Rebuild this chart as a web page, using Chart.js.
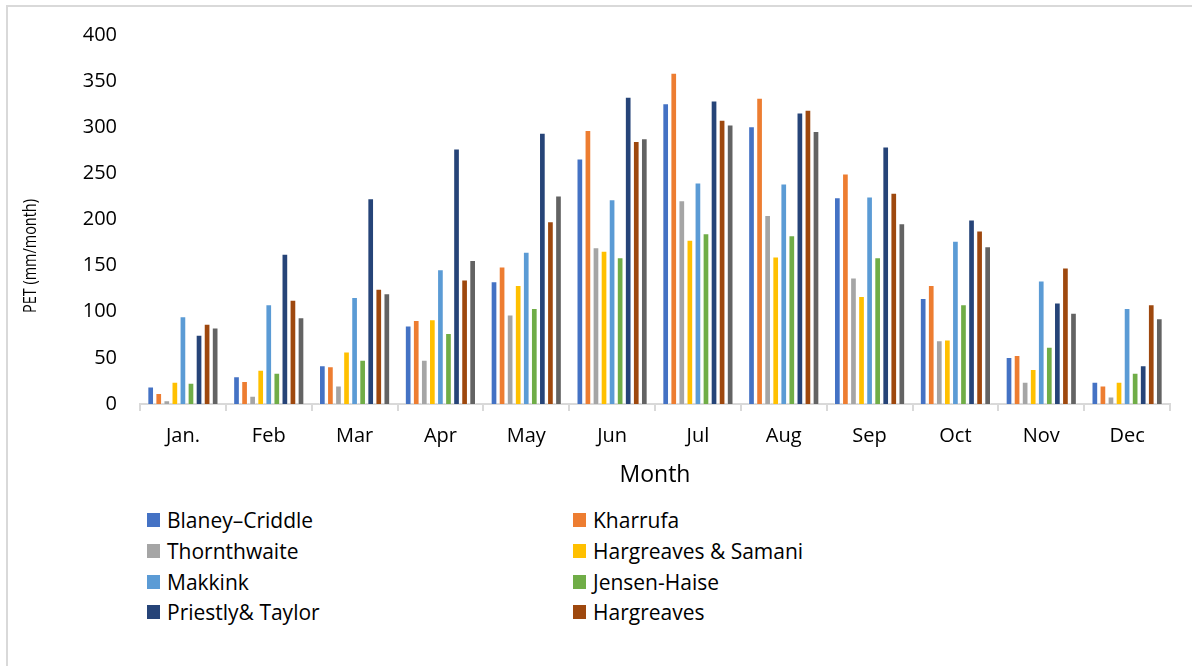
<!DOCTYPE html>
<html>
<head>
<meta charset="utf-8">
<script src="https://cdn.jsdelivr.net/npm/chart.js@4.4.1/dist/chart.umd.min.js"></script>
<style>
  html, body { margin: 0; padding: 0; background: #fff; }
  body { width: 1192px; height: 666px; position: relative; overflow: hidden; font-family: "Open Sans", sans-serif; }
  .frame { position: absolute; left: 6px; top: 5px; width: 1200px; height: 700px; border-left: 2px solid #d9d9d9; border-top: 2px solid #d9d9d9; }
  .chart-box { position: absolute; left: 0; top: 0; width: 1192px; height: 500px; }
  .legend { position: absolute; left: 147px; top: 505px; display: grid; grid-template-columns: 426px 300px; }
  .legend-item { display: flex; align-items: center; height: 30.7px; font-size: 21px; color: #000; white-space: nowrap; }
  .legend-item span.box { width: 13px; height: 14px; margin-right: 7px; flex: none; }
</style>
</head>
<body>
<div class="frame"></div>
<div class="chart-box"><canvas id="petChart"></canvas></div>
<div class="legend" id="legend"></div>

<script>
// PET (mm/month) per method
const months = ['Jan.', 'Feb', 'Mar', 'Apr', 'May', 'Jun', 'Jul', 'Aug', 'Sep', 'Oct', 'Nov', 'Dec'];

const blaneyCriddle = [19, 30, 42, 85, 133, 266, 326, 301, 224, 115, 51, 24];
const kharrufa = [12, 25, 41, 91, 149, 297, 359, 332, 250, 129, 53, 20];
const thornthwaite = [4, 9, 20, 48, 97, 170, 221, 205, 137, 69, 24, 8];
const hargreavesSamani = [24, 37, 57, 92, 129, 166, 178, 160, 117, 70, 38, 24];
const makkink = [95, 108, 116, 146, 165, 222, 240, 239, 225, 177, 134, 104];
const jensenHaise = [23, 34, 48, 77, 104, 159, 185, 183, 159, 108, 62, 34];
const priestlyTaylor = [75, 163, 223, 277, 294, 333, 329, 316, 279, 200, 110, 42];
const hargreaves = [87, 113, 125, 135, 198, 285, 308, 319, 229, 188, 148, 108];
const unnamedSeries = [83, 94, 120, 156, 226, 288, 303, 296, 196, 171, 99, 93];

const yTicks = [0, 50, 100, 150, 200, 250, 300, 350, 400];
const yTitle = 'PET (mm/month)';

const series = [
    { label: 'Blaney\u2013Criddle', data: blaneyCriddle, color: '#4472C4', legend: true },
    { label: 'Kharrufa', data: kharrufa, color: '#ED7D31', legend: true },
    { label: 'Thornthwaite', data: thornthwaite, color: '#A5A5A5', legend: true },
    { label: 'Hargreaves & Samani', data: hargreavesSamani, color: '#FFC000', legend: true },
    { label: 'Makkink', data: makkink, color: '#5B9BD5', legend: true },
    { label: 'Jensen-Haise', data: jensenHaise, color: '#70AD47', legend: true },
    { label: 'Priestly& Taylor', data: priestlyTaylor, color: '#264478', legend: true },
    { label: 'Hargreaves', data: hargreaves, color: '#9E480E', legend: true },
    { label: '', data: unnamedSeries, color: '#636363', legend: false }
];

document.addEventListener('DOMContentLoaded', () => {
    const fontFamily = '"Open Sans", sans-serif';

    // --- Legend (two columns, last series not listed) ---
    const legendEl = document.getElementById('legend');
    series.filter(s => s.legend).forEach(s => {
        const item = document.createElement('div');
        item.className = 'legend-item';
        const box = document.createElement('span');
        box.className = 'box';
        box.style.background = s.color;
        item.appendChild(box);
        item.appendChild(document.createTextNode(s.label));
        legendEl.appendChild(item);
    });

    // Y title sits low beside the 100-200 ticks and is a bit condensed, like the original
    const yTitlePlugin = {
        id: 'yTitle',
        afterDraw(chart) {
            const c = chart.ctx;
            const area = chart.chartArea;
            c.save();
            c.font = '18px ' + fontFamily;
            c.fillStyle = '#000';
            c.textAlign = 'center';
            c.textBaseline = 'middle';
            const squeeze = 114 / c.measureText(yTitle).width;
            c.translate(31, area.bottom - 148);
            c.rotate(-Math.PI / 2);
            c.scale(squeeze, 1);
            c.fillText(yTitle, 0, 0);
            c.restore();
        }
    };

    // --- Chart ---
    const ctx = document.getElementById('petChart').getContext('2d');
    new Chart(ctx, {
        type: 'bar',
        data: {
            labels: months,
            datasets: series.map(s => ({
                label: s.label,
                data: s.data,
                backgroundColor: s.color,
                borderColor: 'rgba(255,255,255,0.4)',
                borderWidth: 1,
                categoryPercentage: 0.845,
                barPercentage: 0.83
            }))
        },
        options: {
            responsive: true,
            maintainAspectRatio: false,
            animation: false,
            layout: { padding: { top: 35, right: 22, bottom: 0, left: 0 } },
            plugins: { legend: { display: false }, tooltip: { enabled: false } },
            scales: {
                x: {
                    grid: { display: true, offset: true, drawOnChartArea: false, drawTicks: true, tickLength: 7, color: '#d9d9d9', lineWidth: 2 },
                    border: { display: true, color: '#d9d9d9', width: 2 },
                    ticks: { color: '#000', font: { family: fontFamily, size: 20 }, padding: 13, maxRotation: 0 },
                    title: { display: true, text: 'Month', color: '#000', font: { family: fontFamily, size: 23 }, padding: { top: 0, bottom: 11 } },
                    afterFit: scale => { scale.height = 96; }
                },
                y: {
                    min: 0,
                    max: 400,
                    afterBuildTicks: scale => { scale.ticks = yTicks.map(v => ({ value: v })); },
                    grid: { display: false },
                    border: { display: false },
                    ticks: { color: '#000', font: { family: fontFamily, size: 20 }, padding: 15 },
                    title: { display: false },
                    afterFit: scale => { scale.width = 140; }
                }
            }
        },
        plugins: [yTitlePlugin]
    });
});
</script>
</body>
</html>
